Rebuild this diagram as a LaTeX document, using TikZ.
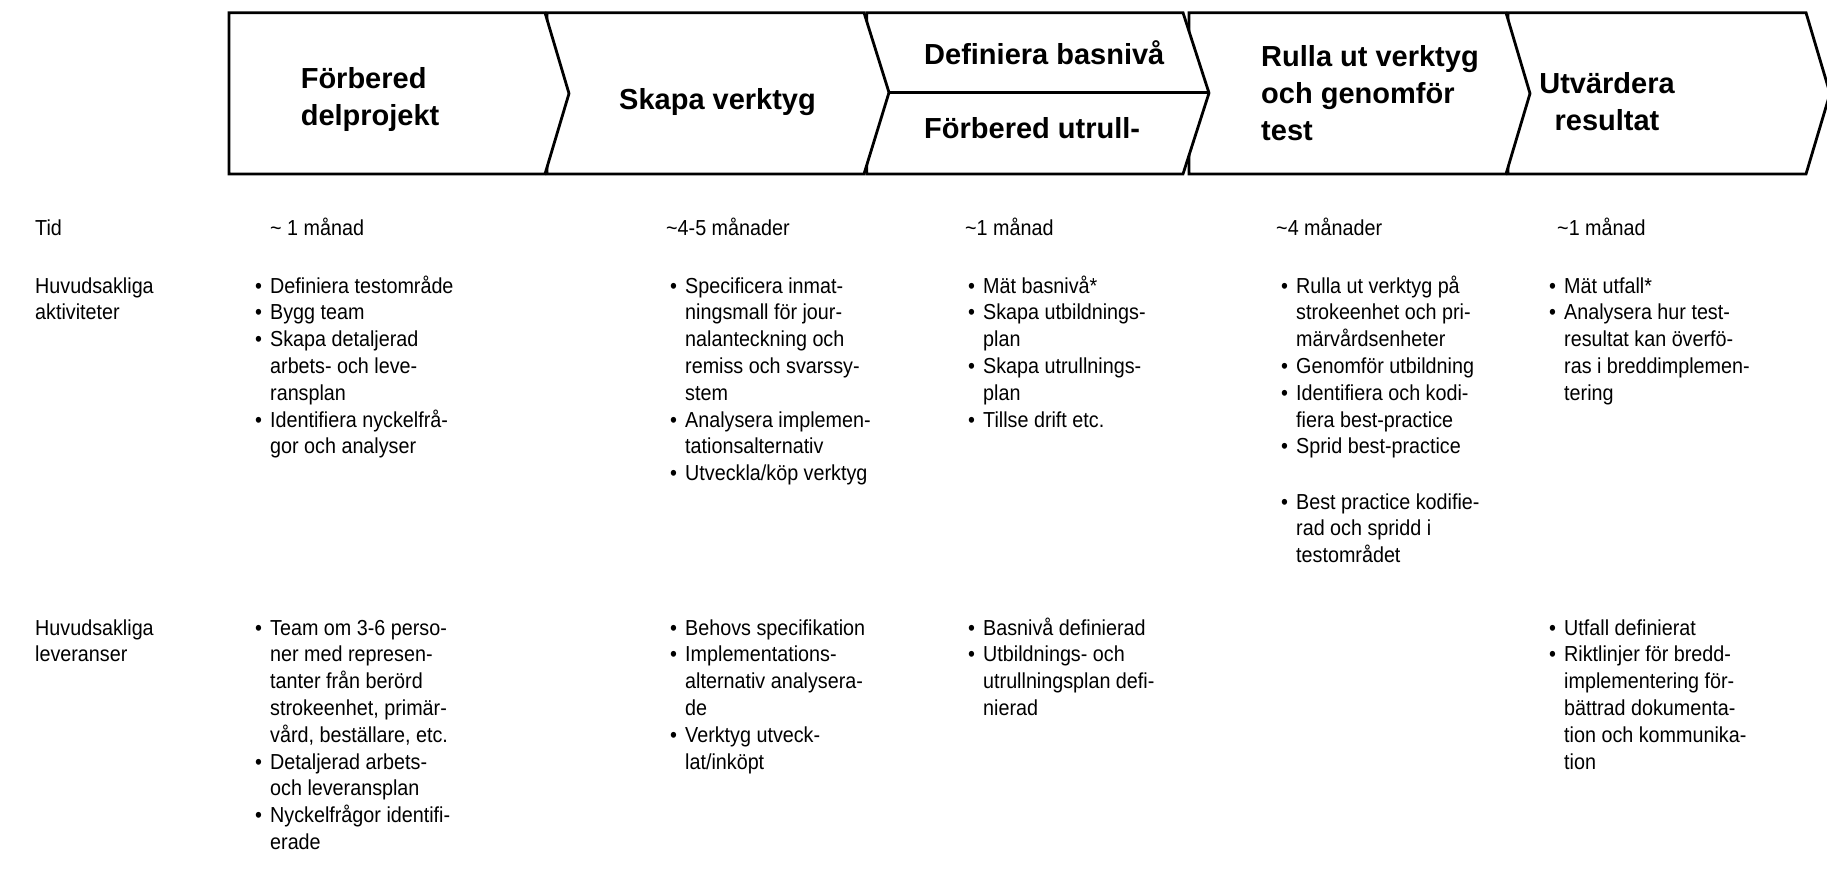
\documentclass[tikz,border=0pt]{standalone}
\usepackage{fontspec}
\setmainfont{Liberation Sans}
\newfontfamily\bodyfam[FakeStretch=0.91]{Liberation Sans}

% text sizes (1pt = one pixel of the page)
\newcommand\bodyfont{\bodyfam\fontsize{21.7}{26.8}\selectfont}
\newcommand\headfont{\fontsize{29}{37}\selectfont\bfseries}
% bullet item, continuation line, and a stack of lines aligned on the first baseline
\newcommand\bi{\makebox[15pt][l]{\textbullet}}
\newcommand\bc{\hspace*{15pt}}
\newcommand\lst[1]{\begin{tabular}[t]{@{}l@{}}#1\end{tabular}}
\newcommand\lstc[1]{\begin{tabular}[t]{@{}c@{}}#1\end{tabular}}

\begin{document}
\begin{tikzpicture}[x=1pt,y=-1pt,
  chev/.style={draw=black, line width=2.8pt, fill=white, line join=miter},
  divider/.style={draw=black, line width=2.8pt},
  head/.style={font=\headfont, inner sep=0pt, anchor=base west},
  headc/.style={font=\headfont, inner sep=0pt, anchor=base},
  txt/.style={font=\bodyfont, inner sep=0pt, anchor=base west}]

\useasboundingbox (0,0) rectangle (1827,881);
\clip (0,0) rectangle (1827,881);

% phase chevrons, drawn right to left so each tip overlaps the next box
\draw[chev] (1508,12.7) -- (1806,12.7) -- (1830,93.5) -- (1806,174) -- (1508,174) -- cycle;
\draw[chev] (1189,12.7) -- (1506,12.7) -- (1530,93.5) -- (1506,174) -- (1189,174) -- cycle;
\draw[chev] (866.7,12.7) -- (1183,12.7) -- (1209,93) -- (1183,174) -- (866.7,174) -- cycle;
\draw[chev] (547,12.7) -- (864,12.7) -- (889,92.5) -- (864,174) -- (547,174) -- cycle;
\draw[chev] (229,12.7) -- (545,12.7) -- (569,93.5) -- (545,174) -- (229,174) -- cycle;
% split of the third phase
\draw[divider] (889,92.5) -- (1209,92.5);

% phase titles
\node[head] (p1) at (300.6,88.5) {\lst{Förbered\\delprojekt}};
\node[head] (p2) at (619,109.5) {Skapa verktyg};
\node[head] (p3a) at (924,64.5) {Definiera basnivå};
\node[head] (p3b) at (924,138.5) {Förbered utrull-};
\node[head] (p4) at (1261,66.5) {\lst{Rulla ut verktyg\\och genomför\\test}};
\node[headc] (p5) at (1607,93.5) {\lstc{Utvärdera\\resultat}};

% row labels
\node[txt] (rtid) at (35,235) {Tid};
\node[txt] (rakt) at (35,293) {\lst{Huvudsakliga\\aktiviteter}};
\node[txt] (rlev) at (35,635) {\lst{Huvudsakliga\\leveranser}};

% durations
\node[txt] (t1) at (270,235) {\textasciitilde\ 1 månad};
\node[txt] (t2) at (666,235) {\textasciitilde 4-5 månader};
\node[txt] (t3) at (965,235) {\textasciitilde 1 månad};
\node[txt] (t4) at (1276,235) {\textasciitilde 4 månader};
\node[txt] (t5) at (1557,235) {\textasciitilde 1 månad};

% main activities
\node[txt] (a1) at (255,293) {\lst{%
\bi Definiera testområde\\
\bi Bygg team\\
\bi Skapa detaljerad\\
\bc arbets- och leve-\\
\bc ransplan\\
\bi Identifiera nyckelfrå-\\
\bc gor och analyser}};
\node[txt] (a2) at (670,293) {\lst{%
\bi Specificera inmat-\\
\bc ningsmall för jour-\\
\bc nalanteckning och\\
\bc remiss och svarssy-\\
\bc stem\\
\bi Analysera implemen-\\
\bc tationsalternativ\\
\bi Utveckla/köp verktyg}};
\node[txt] (a3) at (968,293) {\lst{%
\bi Mät basnivå*\\
\bi Skapa utbildnings-\\
\bc plan\\
\bi Skapa utrullnings-\\
\bc plan\\
\bi Tillse drift etc.}};
\node[txt] (a4) at (1281,293) {\lst{%
\bi Rulla ut verktyg på\\
\bc strokeenhet och pri-\\
\bc märvårdsenheter\\
\bi Genomför utbildning\\
\bi Identifiera och kodi-\\
\bc fiera best-practice\\
\bi Sprid best-practice}};
\node[txt] (a5) at (1549,293) {\lst{%
\bi Mät utfall*\\
\bi Analysera hur test-\\
\bc resultat kan överfö-\\
\bc ras i breddimplemen-\\
\bc tering}};

% main deliverables
\node[txt] (d1) at (255,635) {\lst{%
\bi Team om 3-6 perso-\\
\bc ner med represen-\\
\bc tanter från berörd\\
\bc strokeenhet, primär-\\
\bc vård, beställare, etc.\\
\bi Detaljerad arbets-\\
\bc och leveransplan\\
\bi Nyckelfrågor identifi-\\
\bc erade}};
\node[txt] (d2) at (670,635) {\lst{%
\bi Behovs specifikation\\
\bi Implementations-\\
\bc alternativ analysera-\\
\bc de\\
\bi Verktyg utveck-\\
\bc lat/inköpt}};
\node[txt] (d3) at (968,635) {\lst{%
\bi Basnivå definierad\\
\bi Utbildnings- och\\
\bc utrullningsplan defi-\\
\bc nierad}};
\node[txt] (d4) at (1281,509) {\lst{%
\bi Best practice kodifie-\\
\bc rad och spridd i\\
\bc testområdet}};
\node[txt] (d5) at (1549,635) {\lst{%
\bi Utfall definierat\\
\bi Riktlinjer för bredd-\\
\bc implementering för-\\
\bc bättrad dokumenta-\\
\bc tion och kommunika-\\
\bc tion}};
\end{tikzpicture}
\end{document}
